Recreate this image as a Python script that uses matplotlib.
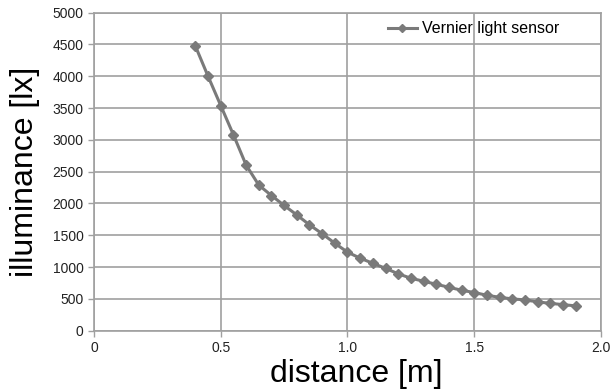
import matplotlib.pyplot as plt

# distance from source [m] and measured illuminance [lx]
distance = [0.40, 0.45, 0.50, 0.55, 0.60, 0.65, 0.70, 0.75, 0.80, 0.85,
            0.90, 0.95, 1.00, 1.05, 1.10, 1.15, 1.20, 1.25, 1.30, 1.35,
            1.40, 1.45, 1.50, 1.55, 1.60, 1.65, 1.70, 1.75, 1.80, 1.85, 1.90]
illuminance = [4475, 4000, 3540, 3080, 2605, 2290, 2125, 1970, 1820, 1665,
               1525, 1375, 1235, 1140, 1060, 980, 895, 825, 778, 730,
               683, 636, 600, 557, 525, 500, 484, 453, 430, 410, 390]

xticks = [0, 0.5, 1.0, 1.5, 2.0]
xticklabels = ["0", "0.5", "1.0", "1.5", "2.0"]
yticks = list(range(0, 5001, 500))

plt.rcParams['font.family'] = ['Liberation Sans', 'DejaVu Sans']

fig = plt.figure(figsize=(6.16, 3.92), dpi=100)
ax = fig.add_axes([0.1526, 0.1564, 0.823, 0.8112])

ax.plot(distance, illuminance, color='#7a7a7a', lw=2.2, marker='D',
        markersize=5, label='Vernier light sensor', zorder=3)

ax.set_xlim(0, 2.0)
ax.set_ylim(0, 5000)
ax.set_xticks(xticks)
ax.set_xticklabels(xticklabels)
ax.set_yticks(yticks)
ax.grid(True, color='#a0a0a0', lw=1.2)
ax.set_axisbelow(True)
for s in ax.spines.values():
    s.set_color('#a0a0a0')
    s.set_linewidth(1.2)
ax.tick_params(colors='#a0a0a0', labelcolor='#222222', labelsize=10,
               length=4, width=1)

ax.set_xlabel('distance [m]', fontsize=23)
ax.xaxis.set_label_coords(0.518, -0.088)
ax.set_ylabel('illuminance [lx]', fontsize=23, labelpad=9)

ax.legend(loc='center left', bbox_to_anchor=(0.58, 0.949), frameon=False,
          fontsize=11.5, handlelength=1.8, handletextpad=0.35,
          borderpad=0, borderaxespad=0, markerscale=0.8)

fig.savefig('out.png', dpi=100, facecolor='white')
